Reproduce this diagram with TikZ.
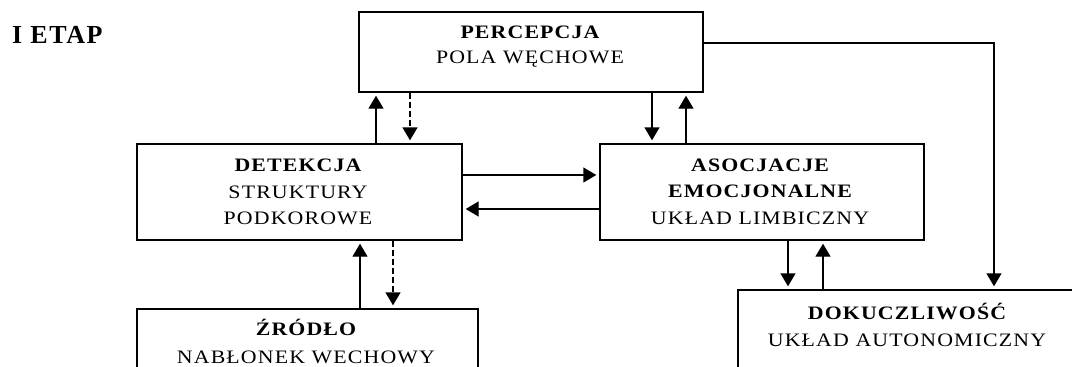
\documentclass[tikz,border=0pt]{standalone}
\usepackage{fontspec}
\setmainfont{Liberation Serif}
\newfontfamily\lblfont{Liberation Serif}[LetterSpace=6,FakeStretch=1.15]
\newfontfamily\etapfont{Liberation Serif}[LetterSpace=6]
\usetikzlibrary{arrows.meta}
\begin{document}
\begin{tikzpicture}[x=1pt,y=-1pt,
  box/.style={draw, line width=1.4pt, inner sep=0pt, rectangle},
  txt/.style={inner sep=0pt, anchor=base, font=\lblfont\fontsize{19}{22}\selectfont},
  hd/.style={txt, font=\lblfont\bfseries\fontsize{19}{22}\selectfont},
  arr/.style={line width=1.4pt, -{Triangle[length=13pt,width=15pt]}, shorten >=3pt},
  darr/.style={arr, dash pattern=on 6pt off 3pt}]
\useasboundingbox (0,0) rectangle (1072,367);
\node[anchor=base west, inner sep=0pt, font=\etapfont\bfseries\fontsize{26}{28}\selectfont] (etap) at (12,43) {I ETAP};
% boxes
\node[box, minimum width=344pt, minimum height=80pt] (perc) at (531,52) {};
\node[box, minimum width=325pt, minimum height=96pt] (det) at (299.5,192) {};
\node[box, minimum width=324pt, minimum height=96pt] (aso) at (762,192) {};
\node[box, minimum width=338pt, minimum height=110pt] (dok) at (907,345) {};
\node[box, minimum width=341pt, minimum height=91pt] (zro) at (307.5,354.5) {};
% texts
\node[hd] (percA) at (530,38) {PERCEPCJA};
\node[txt] (percB) at (530,63) {POLA WĘCHOWE};
\node[hd] (detA) at (298,171) {DETEKCJA};
\node[txt] (detB) at (298,198) {STRUKTURY};
\node[txt] (detC) at (298,224) {PODKOROWE};
\node[hd] (asoA) at (760,171) {ASOCJACJE};
\node[hd] (asoB) at (760,197) {EMOCJONALNE};
\node[txt] (asoC) at (760,224) {UKŁAD LIMBICZNY};
\node[hd] (dokA) at (907,319) {DOKUCZLIWOŚĆ};
\node[txt] (dokB) at (907,346) {UKŁAD AUTONOMICZNY};
\node[hd] (zroA) at (306,335) {ŹRÓDŁO};
\node[txt] (zroB) at (306,363) {NABŁONEK WECHOWY};
% connectors
\draw[arr] (376,0 |- det.north) -- (376,0 |- perc.south);
\draw[darr] (410,0 |- perc.south) -- (410,0 |- det.north);
\draw[arr] (652,0 |- perc.south) -- (652,0 |- aso.north);
\draw[arr] (686,0 |- aso.north) -- (686,0 |- perc.south);
\draw[arr] (det.east |- 0,175) -- (aso.west |- 0,175);
\draw[arr] (aso.west |- 0,209) -- (det.east |- 0,209);
\draw[arr] (788,0 |- aso.south) -- (788,0 |- dok.north);
\draw[arr] (823,0 |- dok.north) -- (823,0 |- aso.south);
\draw[arr] (360,0 |- zro.north) -- (360,0 |- det.south);
\draw[darr] (393,0 |- det.south) -- (393,0 |- zro.north);
\coordinate (corner) at (994,43);
\draw[arr] (perc.east |- corner) -- (corner) -- (corner |- dok.north);
\end{tikzpicture}
\end{document}
